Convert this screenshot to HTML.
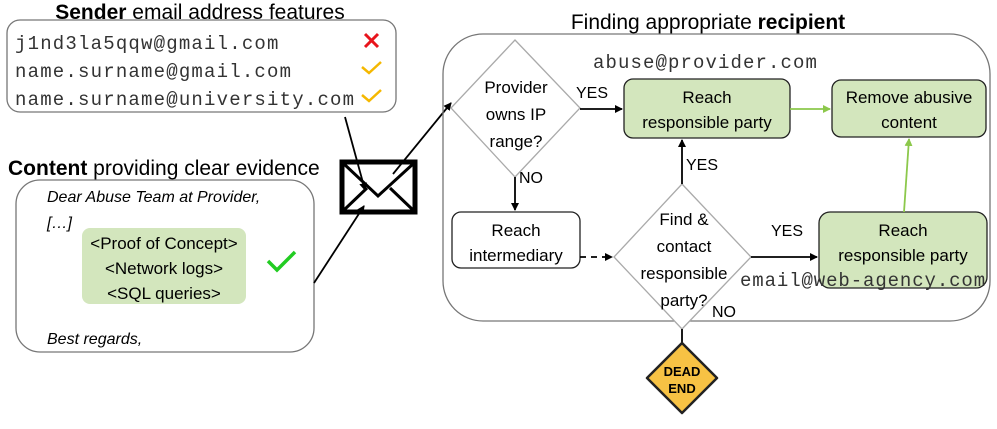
<!DOCTYPE html>
<html><head><meta charset="utf-8"><style>
body{margin:0;background:#fff;}
svg{display:block;}
.s{font-family:"Liberation Sans",sans-serif;}
.m{font-family:"Liberation Mono",monospace;}
</style></head><body>
<svg width="997" height="429" viewBox="0 0 997 429" xmlns="http://www.w3.org/2000/svg">
<defs>
<marker id="a" markerWidth="8" markerHeight="8" refX="7" refY="4" orient="auto" markerUnits="userSpaceOnUse"><path d="M0,0 L8,4 L0,8 z" fill="#000"/></marker>
<marker id="g" markerWidth="8" markerHeight="8" refX="7" refY="4" orient="auto" markerUnits="userSpaceOnUse"><path d="M0,0 L8,4 L0,8 z" fill="#8cc84b"/></marker>
</defs>
<g class="s" font-size="21" fill="#000">
<text x="200" y="19" text-anchor="middle"><tspan font-weight="bold">Sender</tspan> email address features</text>
<text x="8" y="175"><tspan font-weight="bold">Content</tspan> providing clear evidence</text>
<text x="708" y="29" text-anchor="middle">Finding appropriate <tspan font-weight="bold">recipient</tspan></text>
</g>
<rect x="7" y="20" width="389" height="92" rx="13" fill="#fff" stroke="#777" stroke-width="1.3"/>
<g class="m" font-size="19" letter-spacing="1.2" fill="#333">
<text x="15" y="49">j1nd3la5qqw@gmail.com</text>
<text x="15" y="77">name.surname@gmail.com</text>
<text x="15" y="105">name.surname@university.com</text>
</g>
<path d="M365,34 L378,47 M378,34 L365,47" stroke="#e8141c" stroke-width="3"/>
<path d="M362,67 L369,73 L381,62" stroke="#f5b800" stroke-width="2.5" fill="none"/>
<path d="M362,95 L369,101 L381,90" stroke="#f5b800" stroke-width="2.5" fill="none"/>
<rect x="16" y="180" width="298" height="172" rx="24" fill="#fff" stroke="#777" stroke-width="1.3"/>
<g class="s" font-size="16" font-style="italic" fill="#000">
<text x="47" y="202">Dear Abuse Team at Provider,</text>
<text x="47" y="228">[…]</text>
<text x="47" y="344">Best regards,</text>
</g>
<rect x="82" y="228" width="164" height="76" rx="8" fill="#d3e6bd"/>
<g class="s" font-size="17" fill="#000" text-anchor="middle">
<text x="164" y="249">&lt;Proof of Concept&gt;</text>
<text x="164" y="274">&lt;Network logs&gt;</text>
<text x="164" y="299">&lt;SQL queries&gt;</text>
</g>
<path d="M268,261 L277,270 L295,252" stroke="#22cc22" stroke-width="3.5" fill="none"/>
<rect x="342" y="162" width="73" height="50" fill="#fff" stroke="#000" stroke-width="5"/>
<path d="M344,164 L378,196 L413,164 M344,210 L367,188 M413,210 L390,188" stroke="#000" stroke-width="3" fill="none"/>
<line x1="345" y1="117" x2="365" y2="190" stroke="#000" stroke-width="1.8" marker-end="url(#a)"/>
<line x1="314" y1="283" x2="364" y2="206" stroke="#000" stroke-width="1.8" marker-end="url(#a)"/>
<line x1="393" y1="174" x2="451" y2="103" stroke="#000" stroke-width="1.8" marker-end="url(#a)"/>
<rect x="443" y="34" width="547" height="287" rx="40" fill="none" stroke="#777" stroke-width="1.3"/>
<polygon points="515,40 580,108 515,177 451,108" fill="#fff" stroke="#aaa" stroke-width="1.3"/>
<g class="s" font-size="17" fill="#000" text-anchor="middle">
<text x="516" y="93">Provider</text>
<text x="516" y="120">owns IP</text>
<text x="516" y="147">range?</text>
</g>
<text x="593" y="68" class="m" font-size="19" letter-spacing="1.1" fill="#333">abuse@provider.com</text>
<rect x="624" y="79" width="166" height="59" rx="9" fill="#d3e6bd" stroke="#222" stroke-width="1.3"/>
<g class="s" font-size="17" fill="#000" text-anchor="middle">
<text x="707" y="103">Reach</text>
<text x="707" y="128">responsible party</text>
</g>
<rect x="832" y="80" width="154" height="57" rx="9" fill="#d3e6bd" stroke="#222" stroke-width="1.3"/>
<g class="s" font-size="17" fill="#000" text-anchor="middle">
<text x="909" y="103">Remove abusive</text>
<text x="909" y="128">content</text>
</g>
<line x1="580" y1="109" x2="622" y2="109" stroke="#000" stroke-width="1.8" marker-end="url(#a)"/>
<line x1="790" y1="109" x2="830" y2="109" stroke="#8cc84b" stroke-width="1.8" marker-end="url(#g)"/>
<rect x="452" y="212" width="128" height="56" rx="9" fill="#fff" stroke="#222" stroke-width="1.3"/>
<g class="s" font-size="17" fill="#000" text-anchor="middle">
<text x="516" y="236">Reach</text>
<text x="516" y="261">intermediary</text>
</g>
<polygon points="682,184 751,257 682,329 614,257" fill="#fff" stroke="#aaa" stroke-width="1.3"/>
<g class="s" font-size="17" fill="#000" text-anchor="middle">
<text x="684" y="225">Find &amp;</text>
<text x="684" y="252">contact</text>
<text x="684" y="279">responsible</text>
<text x="684" y="306">party?</text>
</g>
<rect x="819" y="212" width="168" height="76" rx="11" fill="#d3e6bd" stroke="#222" stroke-width="1.3"/>
<g class="s" font-size="17" fill="#000" text-anchor="middle">
<text x="903" y="236">Reach</text>
<text x="903" y="261">responsible party</text>
</g>
<line x1="515" y1="177" x2="515" y2="210" stroke="#000" stroke-width="1.8" marker-end="url(#a)"/>
<line x1="580" y1="257" x2="612" y2="257" stroke="#000" stroke-width="1.8" stroke-dasharray="6,5" marker-end="url(#a)"/>
<line x1="682" y1="184" x2="682" y2="140" stroke="#000" stroke-width="1.8" marker-end="url(#a)"/>
<line x1="751" y1="257" x2="817" y2="257" stroke="#000" stroke-width="1.8" marker-end="url(#a)"/>
<line x1="904" y1="212" x2="909" y2="139" stroke="#8cc84b" stroke-width="1.8" marker-end="url(#g)"/>
<line x1="682" y1="329" x2="682" y2="361" stroke="#000" stroke-width="1.8" marker-end="url(#a)"/>
<text x="740" y="286" class="m" font-size="19" letter-spacing="0.9" fill="#333">email@web-agency.com</text>
<g class="s" font-size="16" fill="#000">
<text x="576" y="98">YES</text>
<text x="686" y="170">YES</text>
<text x="771" y="236">YES</text>
<text x="519" y="183">NO</text>
<text x="712" y="317">NO</text>
</g>
<polygon points="682,343 717,378 682,413 647,378" fill="#f7c244" stroke="#222" stroke-width="2.5" stroke-linejoin="round"/>
<g class="s" font-size="13" font-weight="bold" fill="#000" text-anchor="middle">
<text x="682" y="376">DEAD</text>
<text x="682" y="393">END</text>
</g>
</svg>
</body></html>
